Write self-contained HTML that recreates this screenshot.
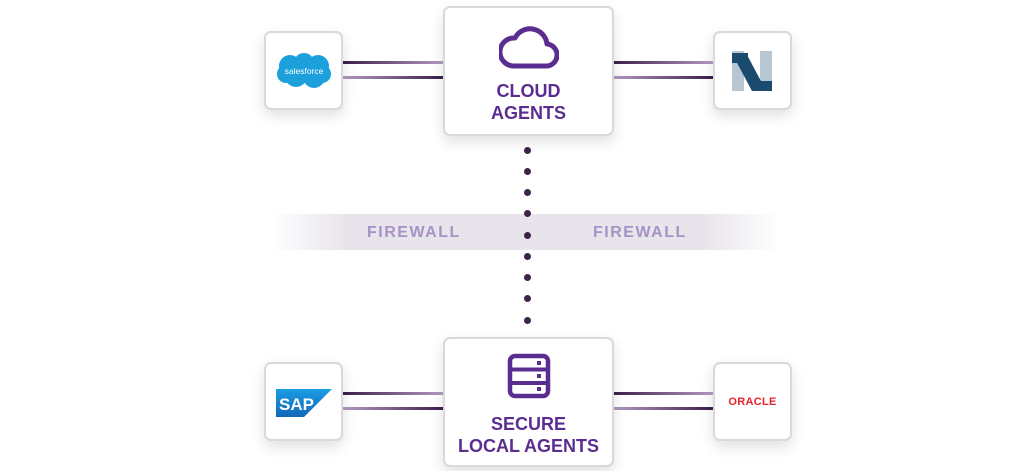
<!DOCTYPE html>
<html><head><style>
body{margin:0;width:1024px;height:471px;background:#fff;position:relative;overflow:hidden;font-family:"Liberation Sans",sans-serif}
.box{position:absolute;background:#fff;border:2px solid #dcd6de;border-radius:7px;box-shadow:0 6px 14px rgba(0,0,0,0.12);box-sizing:border-box}
.lbl{position:absolute;left:0;width:100%;text-align:center;color:#5b2d91;font-weight:bold;font-size:18px;line-height:22px}
.ln{position:absolute;height:3px}
.a{background:linear-gradient(90deg,#3a1d4a,#b49bc4)}
.b{background:linear-gradient(90deg,#b49bc4,#3a1d4a)}
.dot{position:absolute;left:524px;width:7px;height:7px;border-radius:50%;background:#3d2448}
.fw{position:absolute;color:#a792c4;font-weight:bold;font-size:16px;letter-spacing:1.5px;top:224px}
</style></head><body>
<div style="position:absolute;left:270px;top:214px;width:510px;height:36px;background:linear-gradient(90deg,rgba(232,228,236,0),#e8e4ec 15%,#e8e4ec 85%,rgba(232,228,236,0))"></div>
<div class="fw" style="left:367px">FIREWALL</div>
<div class="fw" style="left:593px">FIREWALL</div>

<div class="ln a" style="left:342px;top:61px;width:102px"></div>
<div class="ln b" style="left:342px;top:76px;width:102px"></div>
<div class="ln a" style="left:612px;top:61px;width:102px"></div>
<div class="ln b" style="left:612px;top:76px;width:102px"></div>
<div class="ln a" style="left:342px;top:392px;width:102px"></div>
<div class="ln b" style="left:342px;top:407px;width:102px"></div>
<div class="ln a" style="left:612px;top:392px;width:102px"></div>
<div class="ln b" style="left:612px;top:407px;width:102px"></div>

<div class="dot" style="top:147px"></div><div class="dot" style="top:168px"></div><div class="dot" style="top:189px"></div><div class="dot" style="top:210px"></div><div class="dot" style="top:232px"></div><div class="dot" style="top:253px"></div><div class="dot" style="top:274px"></div><div class="dot" style="top:295px"></div><div class="dot" style="top:317px"></div>

<div class="box" style="left:443px;top:6px;width:171px;height:130px">
<svg style="position:absolute;left:54px;top:16px" width="60" height="46" viewBox="0 0 60 46"><path d="M14 42 H46 A11 11 0 0 0 48 20 A17 17 0 0 0 16 14 A14 14 0 0 0 14 42 Z" fill="none" stroke="#5b2d91" stroke-width="5" stroke-linejoin="round"/></svg>
<div class="lbl" style="top:72px">CLOUD<br>AGENTS</div></div>

<div class="box" style="left:443px;top:337px;width:171px;height:130px">
<svg style="position:absolute;left:62px;top:14px" width="46" height="48" viewBox="0 0 46 48"><rect x="3" y="3" width="38" height="40" rx="5" fill="none" stroke="#5b2d91" stroke-width="4.5"/><line x1="3" y1="16.5" x2="41" y2="16.5" stroke="#5b2d91" stroke-width="4"/><line x1="3" y1="30" x2="41" y2="30" stroke="#5b2d91" stroke-width="4"/><rect x="30" y="8" width="4" height="4" fill="#5b2d91"/><rect x="30" y="21" width="4" height="4" fill="#5b2d91"/><rect x="30" y="34" width="4" height="4" fill="#5b2d91"/></svg>
<div class="lbl" style="top:74px">SECURE<br>LOCAL AGENTS</div></div>

<div class="box" style="left:264px;top:31px;width:79px;height:79px">
<svg style="position:absolute;left:10px;top:19px" width="56" height="38" viewBox="0 0 56 38"><g fill="#1ba0db"><circle cx="14" cy="14" r="11"/><circle cx="28" cy="11" r="10"/><circle cx="42" cy="14" r="11"/><circle cx="20" cy="24" r="11"/><circle cx="38" cy="25" r="11"/><circle cx="10" cy="22" r="9"/><circle cx="46" cy="22" r="9"/></g><text x="28" y="22" fill="#fff" font-size="8.5" text-anchor="middle" font-family="Liberation Sans">salesforce</text></svg></div>

<div class="box" style="left:713px;top:31px;width:79px;height:79px">
<svg style="position:absolute;left:17px;top:18px" width="42" height="42" viewBox="0 0 42 42"><rect x="0" y="0" width="12" height="40" fill="#b6c7d3"/><rect x="28" y="0" width="12" height="40" fill="#b6c7d3"/><rect x="0" y="2" width="12" height="10" fill="#1a4a6e"/><polygon points="4,2 14,2 30,32 30,40 20,40 4,10" fill="#1a4a6e"/><rect x="28" y="30" width="12" height="10" fill="#1a4a6e"/><rect x="12" y="2" width="4" height="8" fill="#1a4a6e"/></svg></div>

<div class="box" style="left:264px;top:362px;width:79px;height:79px">
<svg style="position:absolute;left:10px;top:25px" width="56" height="30" viewBox="0 0 56 30"><defs><linearGradient id="g" x1="0" y1="0" x2="0" y2="1"><stop offset="0" stop-color="#1a9ee4"/><stop offset="1" stop-color="#1367b8"/></linearGradient></defs><polygon points="0,0 56,0 28,28 0,28" fill="url(#g)"/><text x="3" y="21" fill="#fff" font-size="17" font-weight="bold" font-family="Liberation Sans">SAP</text></svg></div>

<div class="box" style="left:713px;top:362px;width:79px;height:79px">
<div style="position:absolute;left:0;width:100%;top:32px;text-align:center;color:#e8232a;font-size:11px;font-weight:bold;letter-spacing:0.3px">ORACLE</div></div>
</body></html>
